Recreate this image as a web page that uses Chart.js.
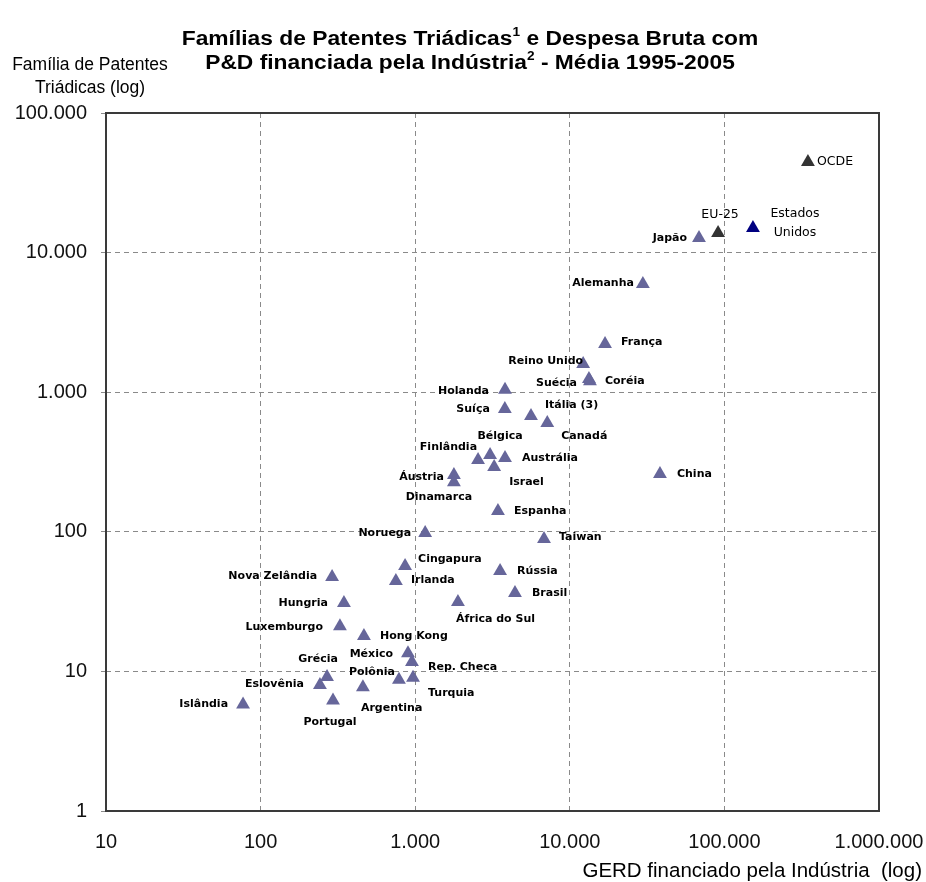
<!DOCTYPE html>
<html>
<head>
<meta charset="utf-8">
<script src="https://cdn.jsdelivr.net/npm/chart.js@4/dist/chart.umd.min.js"></script>
<style>
  html, body { margin: 0; padding: 0; background: #ffffff; }
  #wrap { width: 926px; height: 882px; position: relative; }
</style>
</head>
<body>
<div id="wrap"><canvas id="chart" width="926" height="882"></canvas></div>
<script>
// Países: GERD financiado pela indústria e famílias de patentes triádicas (média 1995-2005)
const paises = [
  'Japão', 'Alemanha', 'França', 'Reino Unido', 'Coréia', 'Suécia', 'Holanda', 'Suíça',
  'Itália (3)', 'Canadá', 'Bélgica', 'Finlândia', 'Austrália', 'Israel', 'Áustria', 'Dinamarca',
  'China', 'Espanha', 'Noruega', 'Taiwan', 'Cingapura', 'Irlanda', 'Nova Zelândia', 'Rússia',
  'Brasil', 'Hungria', 'África do Sul', 'Luxemburgo', 'Hong Kong', 'México', 'Rep. Checa',
  'Grécia', 'Eslovênia', 'Polônia', 'Turquia', 'Argentina', 'Portugal', 'Islândia'
];
const gerdPaises = [
  68500, 29700, 16900, 12200, 13500, 13300, 3810, 3800,
  5610, 7150, 3050, 2550, 3810, 3240, 1780, 1780,
  38300, 3430, 1160, 6810, 860, 750, 290, 3540,
  4420, 346, 1890, 326, 466, 898, 953,
  269, 242, 785, 968, 459, 294, 77
];
const patentesPaises = [
  12700, 5960, 2210, 1590, 1200, 1245, 1040, 758,
  676, 602, 355, 327, 338, 291, 255, 226,
  259, 141, 98, 88.7, 56.9, 44.4, 47.4, 52.4,
  36.5, 30.9, 31.4, 21.1, 17.9, 13.5, 11.7,
  9.1, 8.0, 8.7, 9.0, 7.7, 6.2, 5.8
];

// Agregados regionais
const agregados = ['EU-25', 'OCDE'];
const gerdAgregados = [91000, 347000];
const patentesAgregados = [13800, 44600];

// Estados Unidos
const eua = ['Estados Unidos'];
const gerdEua = [153000];
const patentesEua = [15000];

// Marcas dos eixos
const xTicks = [10, 100, 1000, 10000, 100000, 1000000];
const yTicks = [1, 10, 100, 1000, 10000, 100000];

// Posição de cada rótulo em relação ao seu marcador (alinhamento, dx, dy)
const labelPlacement = {
  'Japão': ['right', -12, 0], 'Alemanha': ['right', -9, -1], 'França': ['left', 16, -2],
  'Reino Unido': ['right', 0, -3], 'Coréia': ['left', 15, 0], 'Suécia': ['right', -12, 4],
  'Holanda': ['right', -16, 1], 'Suíça': ['right', -15, 0], 'Itália (3)': ['left', 14, -11],
  'Canadá': ['left', 14, 13], 'Bélgica': ['center', 10, -19], 'Finlândia': ['right', -1, -13],
  'Austrália': ['left', 17, 0], 'Israel': ['left', 15, 15], 'Áustria': ['right', -10, 2],
  'Dinamarca': ['center', -15, 15], 'China': ['left', 17, 0], 'Espanha': ['left', 16, 0],
  'Noruega': ['right', -14, 0], 'Taiwan': ['left', 15, -2], 'Cingapura': ['left', 13, -7],
  'Irlanda': ['left', 15, -1], 'Nova Zelândia': ['right', -15, -1], 'Rússia': ['left', 17, 0],
  'Brasil': ['left', 17, 0], 'Hungria': ['right', -16, 0], 'África do Sul': ['left', -2, 17],
  'Luxemburgo': ['right', -17, 1], 'Hong Kong': ['left', 16, 0], 'México': ['right', -15, 1],
  'Rep. Checa': ['left', 16, 5], 'Grécia': ['center', -9, -18], 'Eslovênia': ['right', -16, -1],
  'Polônia': ['right', -4, -8], 'Turquia': ['left', 15, 15], 'Argentina': ['left', -2, 21],
  'Portugal': ['center', -3, 22], 'Islândia': ['right', -15, 0],
  'EU-25': ['center', 2, -18], 'OCDE': ['left', 9, 0]
};

const fmtNum = v => Math.round(v).toString().replace(/\B(?=(\d{3})+(?!\d))/g, '.');

const toPoints = (names, xs, ys) => names.map((n, i) => ({ x: xs[i], y: ys[i], nome: n }));

const FONT = "'Liberation Sans', Arial, sans-serif";
const LABEL_FONT = "bold 11px 'DejaVu Sans', sans-serif";
const AGG_FONT = "12.5px 'DejaVu Sans', sans-serif";

// Título, rótulos dos eixos, moldura e nomes dos pontos
const decorPlugin = {
  id: 'decor',
  beforeDatasetsDraw(chart) {
    const { ctx, chartArea: a } = chart;
    ctx.save();
    ctx.strokeStyle = '#3a3a3a';
    ctx.lineWidth = 2;
    ctx.strokeRect(a.left, a.top, a.right - a.left, a.bottom - a.top);
    ctx.restore();
  },
  afterDraw(chart) {
    const { ctx } = chart;
    ctx.save();
    ctx.fillStyle = '#000';
    ctx.textBaseline = 'middle';

    // título com índices sobrescritos, levemente alargado
    const drawRich = (parts, cx, cy, size, sx) => {
      const big = `bold ${size}px ${FONT}`;
      const small = `bold ${Math.round(size * 0.6)}px ${FONT}`;
      let total = 0;
      parts.forEach(p => { ctx.font = p.sup ? small : big; total += ctx.measureText(p.t).width; });
      ctx.save();
      ctx.translate(cx - total * sx / 2, cy);
      ctx.scale(sx, 1);
      ctx.textAlign = 'left';
      let x = 0;
      parts.forEach(p => {
        ctx.font = p.sup ? small : big;
        ctx.fillText(p.t, x, p.sup ? -size * 0.33 : 0);
        x += ctx.measureText(p.t).width;
      });
      ctx.restore();
    };
    drawRich([{ t: 'Famílias de Patentes Triádicas' }, { t: '1', sup: true }, { t: ' e Despesa Bruta com' }], 470, 39, 20, 1.14);
    drawRich([{ t: 'P&D financiada pela Indústria' }, { t: '2', sup: true }, { t: ' - Média 1995-2005' }], 470, 63, 20, 1.14);

    // título do eixo vertical
    ctx.font = `17.5px ${FONT}`;
    ctx.textAlign = 'center';
    ctx.fillText('Família de Patentes', 90, 65);
    ctx.fillText('Triádicas (log)', 90, 88);

    // título do eixo horizontal
    ctx.font = `20.5px ${FONT}`;
    ctx.textAlign = 'right';
    ctx.fillText('GERD financiado pela Indústria  (log)', 922, 871);

    // nomes junto aos marcadores
    chart.data.datasets.forEach((ds, di) => {
      const meta = chart.getDatasetMeta(di);
      ctx.font = di === 0 ? LABEL_FONT : AGG_FONT;
      meta.data.forEach((el, i) => {
        const nome = ds.data[i].nome;
        if (nome === 'Estados Unidos') {
          ctx.textAlign = 'center';
          ctx.fillText('Estados', el.x + 42, el.y - 14);
          ctx.fillText('Unidos', el.x + 42, el.y + 5);
          return;
        }
        const p = labelPlacement[nome] || ['left', 10, 0];
        ctx.textAlign = p[0];
        ctx.fillText(nome, el.x + p[1], el.y + p[2]);
      });
    });
    ctx.restore();
  }
};

const tri = (color) => ({
  pointStyle: 'triangle',
  pointRadius: 8,
  pointHoverRadius: 8,
  pointBackgroundColor: color,
  pointBorderColor: color,
  pointBorderWidth: 0,
  showLine: false
});

new Chart(document.getElementById('chart'), {
  type: 'scatter',
  data: {
    datasets: [
      { label: 'Países', data: toPoints(paises, gerdPaises, patentesPaises), ...tri('#66669a') },
      { label: 'Agregados', data: toPoints(agregados, gerdAgregados, patentesAgregados), ...tri('#333333') },
      { label: 'Estados Unidos', data: toPoints(eua, gerdEua, patentesEua), ...tri('#000080') }
    ]
  },
  options: {
    responsive: false,
    animation: false,
    events: [],
    layout: { padding: { left: 0, top: 113, right: 47, bottom: 0 } },
    plugins: { legend: { display: false }, tooltip: { enabled: false }, title: { display: false } },
    scales: {
      x: {
        type: 'logarithmic',
        min: 10, max: 1000000,
        afterBuildTicks: s => { s.ticks = xTicks.map(v => ({ value: v })); },
        afterFit: s => { s.height = 71; s.paddingLeft = 0; s.paddingRight = 0; },
        ticks: {
          callback: v => fmtNum(v),
          font: { family: FONT, size: 20 },
          color: '#111',
          padding: 19,
          maxRotation: 0,
          autoSkip: false
        },
        grid: { color: '#8a8a8a', lineWidth: 1, drawTicks: false },
        border: { display: false, dash: [5, 4] }
      },
      y: {
        type: 'logarithmic',
        min: 1, max: 100000,
        afterBuildTicks: s => { s.ticks = yTicks.map(v => ({ value: v })); },
        afterFit: s => { s.width = 106; s.paddingTop = 0; s.paddingBottom = 0; },
        ticks: {
          callback: v => fmtNum(v),
          font: { family: FONT, size: 20 },
          color: '#111',
          padding: 14,
          autoSkip: false
        },
        grid: { color: '#8a8a8a', lineWidth: 1, drawTicks: true, tickLength: 5, tickColor: '#8a8a8a' },
        border: { display: false, dash: [5, 4] }
      }
    }
  },
  plugins: [decorPlugin]
});
</script>
</body>
</html>
